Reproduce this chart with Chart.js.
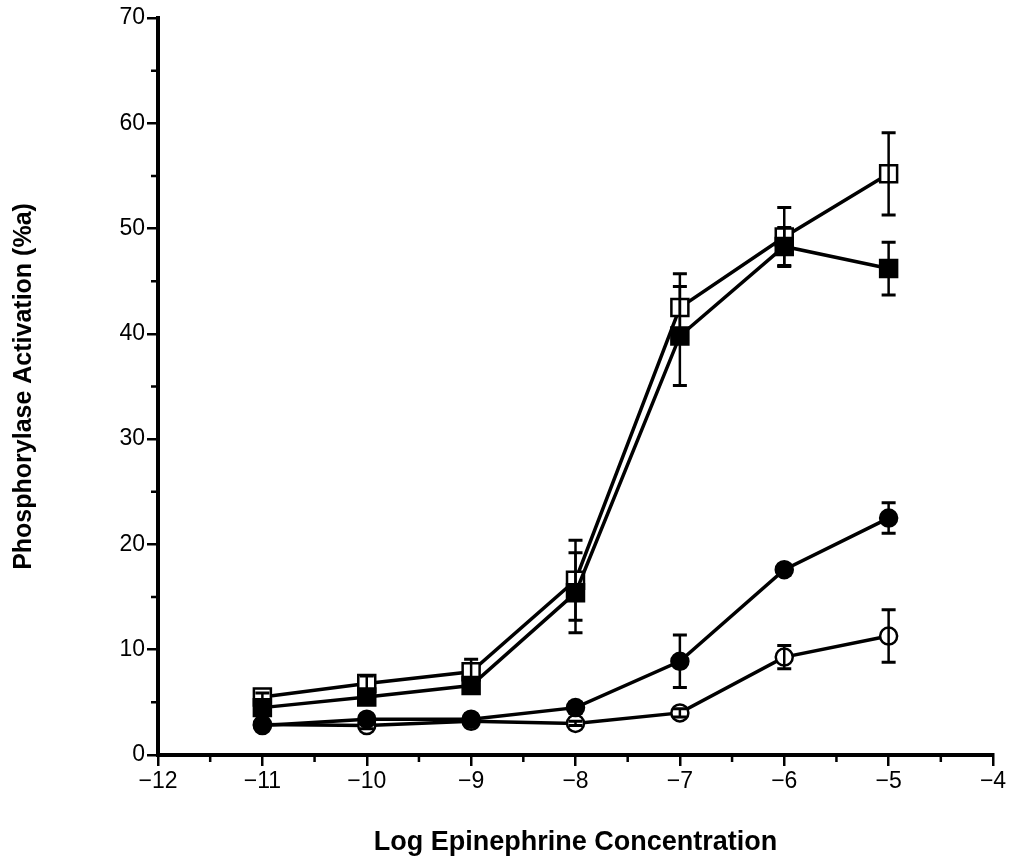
<!DOCTYPE html>
<html>
<head>
<meta charset="utf-8">
<title>Phosphorylase activation vs log epinephrine</title>
<script src="https://cdn.jsdelivr.net/npm/chart.js@4/dist/chart.umd.min.js"></script>
<style>
  html, body { margin: 0; padding: 0; background: #fff; }
  #wrap { width: 1010px; height: 864px; }
</style>
</head>
<body>
<div id="wrap"><canvas id="chart" width="1010" height="864"></canvas></div>
<script>
/* values (mean, +/- error) */
const LOG_CONC = [-11, -10, -9, -8, -7, -6, -5];

const OPEN_SQ = [5.5, 6.8, 7.9, 16.6, 42.5, 49.2, 55.2];
const OPEN_SQ_ERR = [0.4, 0.7, 1.2, 3.8, 3.2, 2.8, 3.9];

const FILLED_SQ = [4.5, 5.5, 6.6, 15.4, 39.8, 48.3, 46.2];
const FILLED_SQ_ERR = [0.3, 0.5, 0.6, 3.8, 4.7, 1.8, 2.5];

const FILLED_CIRC = [2.8, 3.4, 3.4, 4.5, 8.9, 17.6, 22.5];
const FILLED_CIRC_ERR = [0.3, 0.4, 0.5, 0.5, 2.5, 0.5, 1.45];

const OPEN_CIRC = [2.9, 2.8, 3.2, 3.0, 4.0, 9.3, 11.3];
const OPEN_CIRC_ERR = [0.2, 0.3, 0.3, 0.2, 0.4, 1.1, 2.5];

const X_MIN = -12, X_MAX = -4;
const Y_MIN = 0, Y_MAX = 70;

const INK = '#000';
const TICK_FONT = { family: '"Liberation Sans", Arial, sans-serif', size: 23 };
const TITLE_FONT = { family: '"Liberation Sans", Arial, sans-serif', weight: 'bold' };

function pts(ys, errs) {
  return LOG_CONC.map((x, i) => ({ x, y: ys[i], err: errs[i] }));
}

function series(label, ys, errs, style, filled, radius) {
  return {
    label,
    data: pts(ys, errs),
    showLine: true,
    borderColor: INK,
    borderWidth: 3.5,
    pointStyle: style,
    pointRadius: radius,
    pointBorderWidth: 2.5,
    pointBorderColor: INK,
    pointBackgroundColor: filled ? INK : '#fff',
    pointHoverRadius: radius,
  };
}

const minus = (v) => String(v).replace('-', '\u2212');

/* ---------- error bars + short minor ticks, via the chart scales ---------- */
const errorBars = {
  id: 'errorBars',
  afterDatasetsDraw(chart) {
    const { ctx, scales: { x, y } } = chart;
    ctx.save();
    ctx.strokeStyle = INK;
    ctx.lineCap = 'butt';
    chart.data.datasets.forEach((ds) => {
      ds.data.forEach((p) => {
        const px = x.getPixelForValue(p.x);
        const top = y.getPixelForValue(p.y + p.err);
        const bot = y.getPixelForValue(p.y - p.err);
        ctx.lineWidth = 2.5;
        ctx.beginPath();
        ctx.moveTo(px, top); ctx.lineTo(px, bot);
        ctx.stroke();
        ctx.lineWidth = 3;
        ctx.beginPath();
        ctx.moveTo(px - 7, top); ctx.lineTo(px + 7, top);
        ctx.moveTo(px - 7, bot); ctx.lineTo(px + 7, bot);
        ctx.stroke();
      });
    });
    ctx.restore();
  },
  afterDraw(chart) {
    const { ctx, chartArea: a, scales: { x, y } } = chart;
    ctx.save();
    ctx.strokeStyle = INK;
    ctx.lineWidth = 2.5;
    ctx.beginPath();
    for (let v = X_MIN + 0.5; v < X_MAX; v += 1) {
      const px = x.getPixelForValue(v);
      ctx.moveTo(px, a.bottom); ctx.lineTo(px, a.bottom + 7);
    }
    for (let v = Y_MIN + 5; v < Y_MAX; v += 10) {
      const py = y.getPixelForValue(v);
      ctx.moveTo(a.left - 7, py); ctx.lineTo(a.left, py);
    }
    ctx.stroke();
    ctx.restore();
  },
};

new Chart(document.getElementById('chart'), {
  type: 'scatter',
  data: {
    datasets: [
      series('Filled circle', FILLED_CIRC, FILLED_CIRC_ERR, 'circle', true, 8.5),
      series('Filled square', FILLED_SQ, FILLED_SQ_ERR, 'rect', true, 12),
      series('Open circle', OPEN_CIRC, OPEN_CIRC_ERR, 'circle', false, 8.5),
      series('Open square', OPEN_SQ, OPEN_SQ_ERR, 'rect', false, 12),
    ],
  },
  options: {
    responsive: false,
    animation: false,
    events: [],
    layout: { padding: { left: 0, top: 18, right: 17, bottom: 0 } },
    plugins: { legend: { display: false }, tooltip: { enabled: false } },
    scales: {
      x: {
        type: 'linear', min: X_MIN, max: X_MAX,
        afterFit: (s) => { s.height = 109; },
        border: { color: INK, width: 4 },
        grid: { drawOnChartArea: false, drawTicks: true, tickLength: 11, color: INK, lineWidth: 2.5 },
        ticks: {
          stepSize: 1, autoSkip: false, maxRotation: 0, color: INK, font: TICK_FONT, padding: 2,
          callback: (v) => minus(v),
        },
        title: { display: true, text: 'Log Epinephrine Concentration', color: INK, font: { ...TITLE_FONT, size: 27 }, padding: { top: 0, bottom: 5 } },
      },
      y: {
        type: 'linear', min: Y_MIN, max: Y_MAX,
        afterFit: (s) => { s.width = 158; },
        border: { color: INK, width: 4 },
        grid: { drawOnChartArea: false, drawTicks: true, tickLength: 11, color: INK, lineWidth: 2.5 },
        ticks: {
          stepSize: 10, autoSkip: false, color: INK, font: TICK_FONT, padding: 2,
          callback: (v) => String(v),
        },
        title: { display: true, text: 'Phosphorylase Activation (%a)', color: INK, font: { ...TITLE_FONT, size: 25 }, padding: { top: 9, bottom: 0 } },
      },
    },
  },
  plugins: [errorBars],
});
</script>
</body>
</html>
